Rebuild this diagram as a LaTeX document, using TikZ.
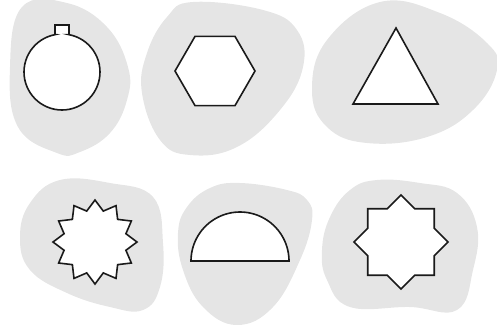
\documentclass[tikz,border=0pt]{standalone}
\definecolor{blobgray}{HTML}{E5E5E5}
\definecolor{edge}{HTML}{1A1A1A}
\tikzset{
  blob/.style={fill=blobgray, draw=none},
  shapeline/.style={draw=edge, fill=white, line width=1.6pt, line join=miter}
}
\begin{document}
\begin{tikzpicture}[x=1pt,y=-1pt]
\useasboundingbox (0,0) rectangle (497,325);
% blobs
\path[blob] plot[smooth cycle, tension=0.7] coordinates {(22,7) (67,3) (107,27) (128,67) (127,100) (110,133) (80,152) (57,153) (18,127) (10,67)};
\path[blob] plot[smooth cycle, tension=0.7] coordinates {(193,2) (263,10) (297,30) (303,67) (280,110) (237,147) (190,155) (160,140) (142,93) (147,53) (167,17)};
\path[blob] plot[smooth cycle, tension=0.7] coordinates {(380,2) (440,13) (487,43) (497,70) (473,110) (427,137) (367,143) (327,127) (312,90) (327,40)};
\path[blob] plot[smooth cycle, tension=0.7] coordinates {(60,180) (110,183) (153,197) (163,243) (160,287) (143,310) (110,307) (67,293) (30,270) (20,237) (30,203)};
\path[blob] plot[smooth cycle, tension=0.7] coordinates {(240,183) (287,190) (307,200) (312,220) (300,260) (273,307) (237,325) (203,307) (183,270) (178,233) (187,207) (210,188)};
\path[blob] plot[smooth cycle, tension=0.7] coordinates {(377,180) (420,183) (457,193) (477,227) (473,270) (457,310) (410,307) (350,307) (327,280) (322,250) (330,217) (350,190)};
% circle with tab
\draw[shapeline] (69,25) -- (69,34.65) -- plot[domain=-79.4:259.4, samples=61] ({62+38*cos(\x)},{72+38*sin(\x)}) -- (55,34.65) -- (55,25) -- cycle;
% hexagon
\draw[shapeline] (255,71) -- (235,36.4) -- (195,36.4) -- (175,71) -- (195,105.6) -- (235,105.6) -- cycle;
% triangle
\draw[shapeline] (396,28) -- (438,104) -- (353,104) -- cycle;
% 12-point star
\draw[shapeline] plot[domain=0:23, samples=24] ({95+(mod(\x,2)==0 ? 42 : 32)*cos(90+15*\x)},{242-(mod(\x,2)==0 ? 42 : 32)*sin(90+15*\x)}) -- cycle;
% semicircle
\draw[shapeline] (191,261) -- plot[domain=180:360, samples=61] ({240+49*cos(\x)},{261+49*sin(\x)}) -- cycle;
% 8-point star
\draw[shapeline] plot[domain=0:15, samples=16] ({401+(mod(\x,2)==0 ? 47 : 36)*cos(22.5*\x)},{242-(mod(\x,2)==0 ? 47 : 36)*sin(22.5*\x)}) -- cycle;
\end{tikzpicture}
\end{document}
